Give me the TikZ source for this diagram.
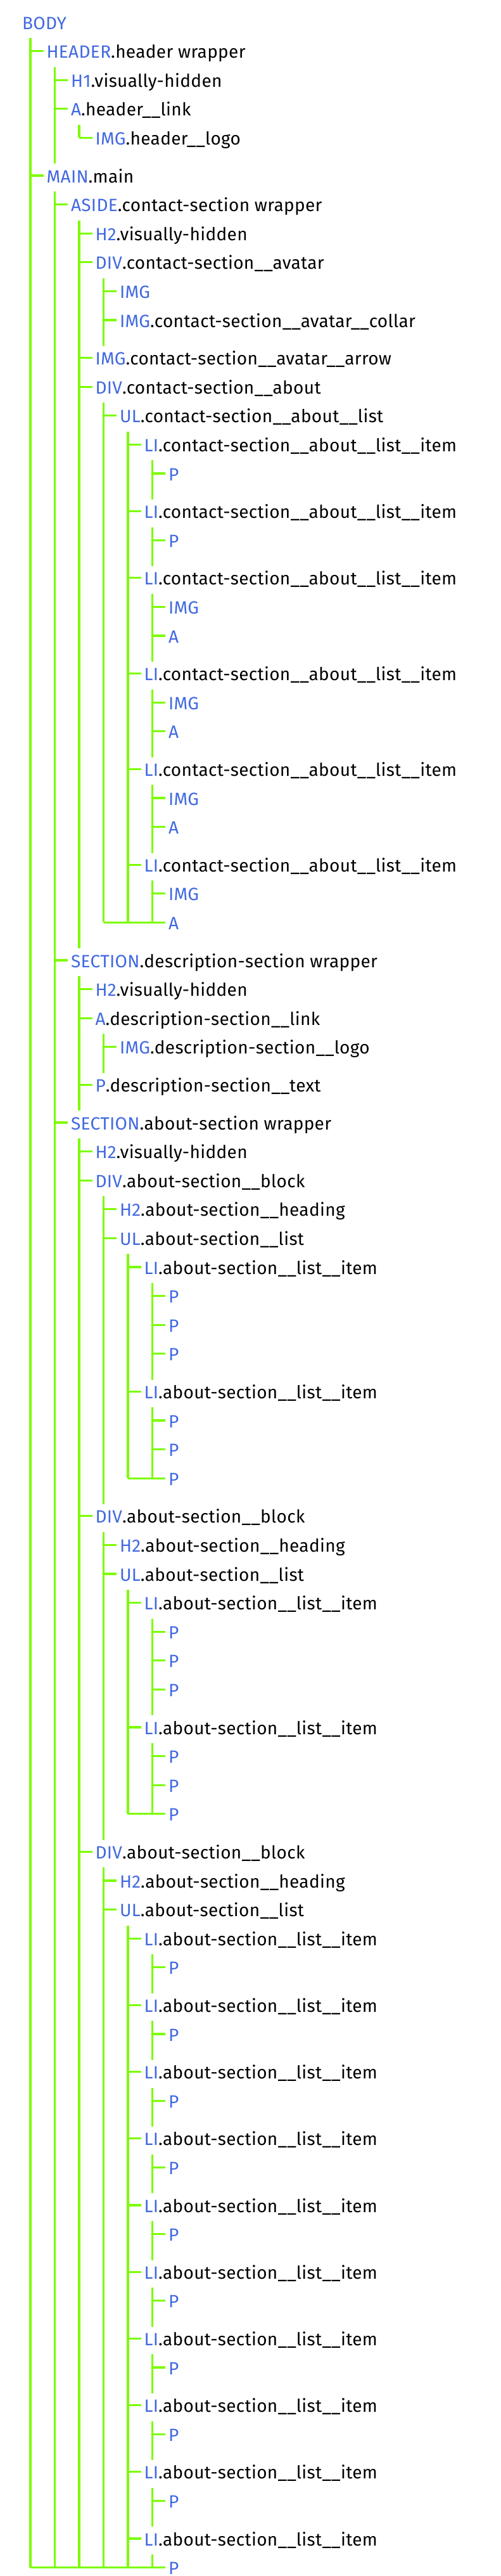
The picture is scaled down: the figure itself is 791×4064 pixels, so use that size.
\documentclass[tikz,border=0pt]{standalone}
\usepackage{fontspec}
\setmainfont{Fira Sans}[LetterSpace=1.2]
\definecolor{tagblue}{RGB}{65,105,225}
\definecolor{treegreen}{RGB}{124,252,0}
\newcommand\tg[2]{{\color{tagblue}#1}#2}
\gdef\cury{0.4}
\newcommand\rw[4]{%
  \pgfmathsetmacro\tmpy{\cury+45.6+14*#3}%
  \xdef\cury{\tmpy}%
  \node[lbl] (#1) at ({35+38.5*#2},-\cury) {#4};
  \coordinate (#1-l) at ([shift={(13,-14)}]#1.base west);
  \coordinate (#1-t) at ([shift={(-5,11)}]#1.base west);
  \coordinate (#1-e) at ([shift={(0,-30)}]#1.base west);
}
\newcommand\grp[3]{%
  \draw[tree] (#1-l) -- (#1-l |- #2);
  \foreach \c in {#3} { \draw[tree] (#1-l |- \c-t) -- (\c-t); }
}
\begin{document}
\begin{tikzpicture}[x=1pt,y=1pt,
  lbl/.style={anchor=base west,inner sep=0pt,outer sep=0pt,font=\fontsize{28}{34}\selectfont,text=black},
  tree/.style={draw=treegreen,line width=3.2pt}]
\useasboundingbox[fill=white] (0,0) rectangle (791,-4064);
\rw{r1}{0}{0}{\tg{BODY}{}}
\rw{r2}{1}{0}{\tg{HEADER}{.header wrapper}}
\rw{r3}{2}{0}{\tg{H1}{.visually-hidden}}
\rw{r4}{2}{0}{\tg{A}{.header\_\_link}}
\rw{r5}{3}{0}{\tg{IMG}{.header\_\_logo}}
\rw{r6}{1}{1}{\tg{MAIN}{.main}}
\rw{r7}{2}{0}{\tg{ASIDE}{.contact-section wrapper}}
\rw{r8}{3}{0}{\tg{H2}{.visually-hidden}}
\rw{r9}{3}{0}{\tg{DIV}{.contact-section\_\_avatar}}
\rw{r10}{4}{0}{\tg{IMG}{}}
\rw{r11}{4}{0}{\tg{IMG}{.contact-section\_\_avatar\_\_collar}}
\rw{r12}{3}{1}{\tg{IMG}{.contact-section\_\_avatar\_\_arrow}}
\rw{r13}{3}{0}{\tg{DIV}{.contact-section\_\_about}}
\rw{r14}{4}{0}{\tg{UL}{.contact-section\_\_about\_\_list}}
\rw{r15}{5}{0}{\tg{LI}{.contact-section\_\_about\_\_list\_\_item}}
\rw{r16}{6}{0}{\tg{P}{}}
\rw{r17}{5}{1}{\tg{LI}{.contact-section\_\_about\_\_list\_\_item}}
\rw{r18}{6}{0}{\tg{P}{}}
\rw{r19}{5}{1}{\tg{LI}{.contact-section\_\_about\_\_list\_\_item}}
\rw{r20}{6}{0}{\tg{IMG}{}}
\rw{r21}{6}{0}{\tg{A}{}}
\rw{r22}{5}{1}{\tg{LI}{.contact-section\_\_about\_\_list\_\_item}}
\rw{r23}{6}{0}{\tg{IMG}{}}
\rw{r24}{6}{0}{\tg{A}{}}
\rw{r25}{5}{1}{\tg{LI}{.contact-section\_\_about\_\_list\_\_item}}
\rw{r26}{6}{0}{\tg{IMG}{}}
\rw{r27}{6}{0}{\tg{A}{}}
\rw{r28}{5}{1}{\tg{LI}{.contact-section\_\_about\_\_list\_\_item}}
\rw{r29}{6}{0}{\tg{IMG}{}}
\rw{r30}{6}{0}{\tg{A}{}}
\rw{r31}{2}{1}{\tg{SECTION}{.description-section wrapper}}
\rw{r32}{3}{0}{\tg{H2}{.visually-hidden}}
\rw{r33}{3}{0}{\tg{A}{.description-section\_\_link}}
\rw{r34}{4}{0}{\tg{IMG}{.description-section\_\_logo}}
\rw{r35}{3}{1}{\tg{P}{.description-section\_\_text}}
\rw{r36}{2}{1}{\tg{SECTION}{.about-section wrapper}}
\rw{r37}{3}{0}{\tg{H2}{.visually-hidden}}
\rw{r38}{3}{0}{\tg{DIV}{.about-section\_\_block}}
\rw{r39}{4}{0}{\tg{H2}{.about-section\_\_heading}}
\rw{r40}{4}{0}{\tg{UL}{.about-section\_\_list}}
\rw{r41}{5}{0}{\tg{LI}{.about-section\_\_list\_\_item}}
\rw{r42}{6}{0}{\tg{P}{}}
\rw{r43}{6}{0}{\tg{P}{}}
\rw{r44}{6}{0}{\tg{P}{}}
\rw{r45}{5}{1}{\tg{LI}{.about-section\_\_list\_\_item}}
\rw{r46}{6}{0}{\tg{P}{}}
\rw{r47}{6}{0}{\tg{P}{}}
\rw{r48}{6}{0}{\tg{P}{}}
\rw{r49}{3}{1}{\tg{DIV}{.about-section\_\_block}}
\rw{r50}{4}{0}{\tg{H2}{.about-section\_\_heading}}
\rw{r51}{4}{0}{\tg{UL}{.about-section\_\_list}}
\rw{r52}{5}{0}{\tg{LI}{.about-section\_\_list\_\_item}}
\rw{r53}{6}{0}{\tg{P}{}}
\rw{r54}{6}{0}{\tg{P}{}}
\rw{r55}{6}{0}{\tg{P}{}}
\rw{r56}{5}{1}{\tg{LI}{.about-section\_\_list\_\_item}}
\rw{r57}{6}{0}{\tg{P}{}}
\rw{r58}{6}{0}{\tg{P}{}}
\rw{r59}{6}{0}{\tg{P}{}}
\rw{r60}{3}{1}{\tg{DIV}{.about-section\_\_block}}
\rw{r61}{4}{0}{\tg{H2}{.about-section\_\_heading}}
\rw{r62}{4}{0}{\tg{UL}{.about-section\_\_list}}
\rw{r63}{5}{0}{\tg{LI}{.about-section\_\_list\_\_item}}
\rw{r64}{6}{0}{\tg{P}{}}
\rw{r65}{5}{1}{\tg{LI}{.about-section\_\_list\_\_item}}
\rw{r66}{6}{0}{\tg{P}{}}
\rw{r67}{5}{1}{\tg{LI}{.about-section\_\_list\_\_item}}
\rw{r68}{6}{0}{\tg{P}{}}
\rw{r69}{5}{1}{\tg{LI}{.about-section\_\_list\_\_item}}
\rw{r70}{6}{0}{\tg{P}{}}
\rw{r71}{5}{1}{\tg{LI}{.about-section\_\_list\_\_item}}
\rw{r72}{6}{0}{\tg{P}{}}
\rw{r73}{5}{1}{\tg{LI}{.about-section\_\_list\_\_item}}
\rw{r74}{6}{0}{\tg{P}{}}
\rw{r75}{5}{1}{\tg{LI}{.about-section\_\_list\_\_item}}
\rw{r76}{6}{0}{\tg{P}{}}
\rw{r77}{5}{1}{\tg{LI}{.about-section\_\_list\_\_item}}
\rw{r78}{6}{0}{\tg{P}{}}
\rw{r79}{5}{1}{\tg{LI}{.about-section\_\_list\_\_item}}
\rw{r80}{6}{0}{\tg{P}{}}
\rw{r81}{5}{1}{\tg{LI}{.about-section\_\_list\_\_item}}
\rw{r82}{6}{0}{\tg{P}{}}
% tree connectors
\grp{r1}{r82-t}{r2,r6}
\grp{r2}{r5-e}{r3,r4}
\grp{r4}{r5-t}{r5}
\grp{r6}{r82-t}{r7,r31,r36}
\grp{r7}{r30-e}{r8,r9,r12,r13}
\grp{r9}{r11-e}{r10,r11}
\grp{r13}{r30-t}{r14}
\grp{r14}{r30-t}{r15,r17,r19,r22,r25,r28}
\grp{r15}{r16-e}{r16}
\grp{r17}{r18-e}{r18}
\grp{r19}{r21-e}{r20,r21}
\grp{r22}{r24-e}{r23,r24}
\grp{r25}{r27-e}{r26,r27}
\grp{r28}{r30-t}{r29,r30}
\draw[tree] (r13-l |- r30-t) -- (r30-t);
\grp{r31}{r35-e}{r32,r33,r35}
\grp{r33}{r34-e}{r34}
\grp{r36}{r82-t}{r37,r38,r49,r60}
\grp{r38}{r48-e}{r39,r40}
\grp{r40}{r48-t}{r41,r45}
\grp{r41}{r44-e}{r42,r43,r44}
\grp{r45}{r48-t}{r46,r47,r48}
\draw[tree] (r40-l |- r48-t) -- (r48-t);
\grp{r49}{r59-e}{r50,r51}
\grp{r51}{r59-t}{r52,r56}
\grp{r52}{r55-e}{r53,r54,r55}
\grp{r56}{r59-t}{r57,r58,r59}
\draw[tree] (r51-l |- r59-t) -- (r59-t);
\grp{r60}{r82-t}{r61,r62}
\grp{r62}{r82-t}{r63,r65,r67,r69,r71,r73,r75,r77,r79,r81}
\grp{r63}{r64-e}{r64}
\grp{r65}{r66-e}{r66}
\grp{r67}{r68-e}{r68}
\grp{r69}{r70-e}{r70}
\grp{r71}{r72-e}{r72}
\grp{r73}{r74-e}{r74}
\grp{r75}{r76-e}{r76}
\grp{r77}{r78-e}{r78}
\grp{r79}{r80-e}{r80}
\grp{r81}{r82-t}{r82}
\draw[tree] (r1-l |- r82-t) -- (r82-t);
\end{tikzpicture}
\end{document}
